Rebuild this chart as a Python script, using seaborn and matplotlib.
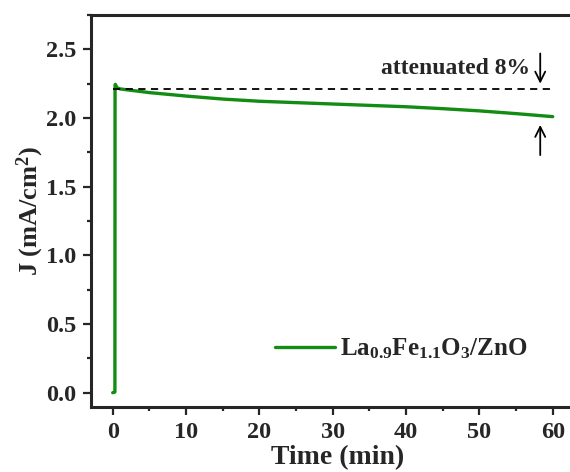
import matplotlib
matplotlib.use("Agg")
import matplotlib.pyplot as plt
from matplotlib.ticker import MultipleLocator
import seaborn as sns
import pandas as pd

time_min = [0, 0.3, 0.32, 0.36, 0.6, 1, 2, 5, 10, 15, 20, 25, 30, 35, 40, 45, 50, 55, 60]
current = [0.0, 0.005, 2.24, 2.245, 2.22, 2.212, 2.205, 2.185, 2.16, 2.138, 2.122, 2.112, 2.102,
           2.092, 2.082, 2.068, 2.052, 2.032, 2.01]
series_label = r"La$_{0.9}$Fe$_{1.1}$O$_{3}$/ZnO"
ref_level = 2.21
x_ticks = [0, 10, 20, 30, 40, 50, 60]
y_ticks = [0.0, 0.5, 1.0, 1.5, 2.0, 2.5]

sns.set_style("ticks")
plt.rcParams["font.family"] = ["Liberation Serif", "DejaVu Serif"]
plt.rcParams["font.weight"] = "bold"
plt.rcParams["mathtext.default"] = "regular"

df = pd.DataFrame({"Time (min)": time_min, "J": current})

fig = plt.figure(figsize=(5.7, 4.72), dpi=100)
ax = fig.add_axes([91 / 570, 1 - 407 / 472, 1 - 91 / 570, (407 - 15) / 472])

sns.lineplot(data=df, x="Time (min)", y="J", ax=ax, color="#128c12", lw=2.4,
             label=series_label, sort=False)

ax.plot([0, 60], [ref_level, ref_level], ls=(0, (4, 3)), color="black", lw=1.3)

ax.annotate("", xy=(58.3, 2.23), xytext=(58.3, 2.49),
            arrowprops=dict(arrowstyle="->", color="black", lw=1.3, mutation_scale=18))
ax.annotate("", xy=(58.3, 1.97), xytext=(58.3, 1.71),
            arrowprops=dict(arrowstyle="->", color="black", lw=1.3, mutation_scale=18))
ax.text(56.9, 2.36, "attenuated 8%", ha="right", va="center", fontsize=17, fontweight="bold")

ax.set_xlim(-2.96, 62.36)
ax.set_ylim(-0.104, 2.75)
ax.set_xticks(x_ticks)
ax.set_yticks(y_ticks)
ax.set_yticklabels([f"{v:.1f}" for v in y_ticks])
ax.xaxis.set_minor_locator(MultipleLocator(5))
ax.yaxis.set_minor_locator(MultipleLocator(0.25))
ax.tick_params(which="major", length=5.5, width=1.6, labelsize=17.5, direction="out", pad=5)
ax.tick_params(which="minor", length=2.7, width=1.6, direction="out")
for lab in ax.get_xticklabels() + ax.get_yticklabels():
    lab.set_fontweight("bold")

for s in ["left", "bottom", "top"]:
    ax.spines[s].set_linewidth(2.2)
ax.spines["right"].set_visible(False)

ax.set_xlabel("Time (min)", fontsize=20, fontweight="bold")
ax.xaxis.set_label_coords(0.515, -0.098)
ax.xaxis.label.set_va("top")
ax.set_ylabel("J (mA/cm$^{2}$)", fontsize=19, fontweight="bold")
ax.yaxis.set_label_coords(-0.127, 0.5)
ax.yaxis.label.set_va("center")

leg = ax.legend(loc="center left", bbox_to_anchor=(0.384, 0.148), frameon=False,
                borderaxespad=0, borderpad=0,
                prop={"size": 18, "weight": "bold"}, handlelength=2.4, handletextpad=0.2)
for line in leg.get_lines():
    line.set_linewidth(2.4)

fig.savefig("out.png", dpi=100)
